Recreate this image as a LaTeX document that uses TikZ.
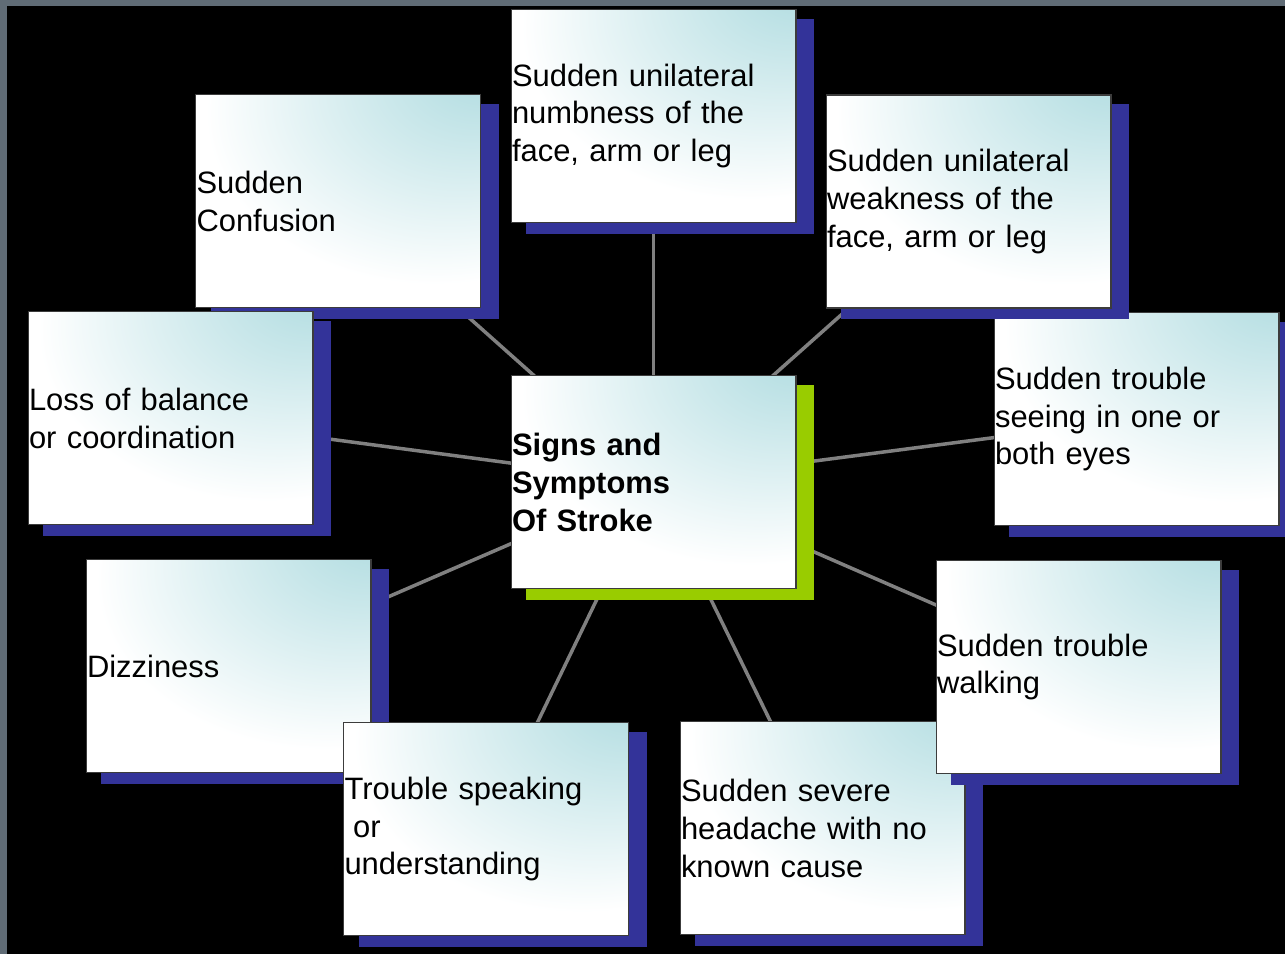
\documentclass[tikz,border=0pt]{standalone}
\usepackage{fontspec}
\setmainfont{Liberation Sans}
\usetikzlibrary{shadows}

\definecolor{slidegrey}{RGB}{96,108,118}
\definecolor{boxteal}{RGB}{183,223,227}
\definecolor{boxedge}{RGB}{60,60,60}
\definecolor{shadownavy}{RGB}{51,51,153}
\definecolor{hubgreen}{RGB}{153,204,0}
\definecolor{linkgrey}{RGB}{128,128,128}

\pgfdeclarelayer{background}
\pgfdeclarelayer{links}
\pgfsetlayers{background,links,main}

\pgfdeclareradialshading{boxshade}{\pgfpoint{28bp}{34bp}}{color(0bp)=(boxteal); color(6bp)=(boxteal); color(40bp)=(white); color(100bp)=(white)}

\tikzset{
  basebox/.style={rectangle, draw=boxedge, line width=0.6pt, shading=boxshade,
    minimum width=5.7cm, minimum height=4.26cm, text width=5.66cm,
    inner xsep=0.02cm, inner ysep=0pt, align=left,
    font=\fontsize{17.6}{21.6}\selectfont},
  symbox/.style={basebox, drop shadow={fill=shadownavy, opacity=1, shadow xshift=0.33cm, shadow yshift=-0.2cm, shadow scale=1.01}},
  hubbox/.style={basebox, font=\fontsize{17.6}{21.6}\selectfont\bfseries,
    drop shadow={fill=hubgreen, opacity=1, shadow xshift=0.33cm, shadow yshift=-0.2cm, shadow scale=1.01}},
  link/.style={draw=linkgrey, line width=0.07cm}
}

\begin{document}
\begin{tikzpicture}[x=0.02cm, y=-0.02cm]
    \useasboundingbox (0,0) rectangle (1285,954);
    \begin{pgfonlayer}{background}
      \fill[slidegrey] (0,0) rectangle (1285,954);
      \fill[black] (7,6) rectangle (1285,954);
    \end{pgfonlayer}

    \node[hubbox] (hub) at (653.5,482) {Signs and\\Symptoms\\Of Stroke};

    \node[symbox] (numb) at (653.5,116) {Sudden unilateral\\numbness of the\\face, arm or leg};
    \node[symbox] (eyes) at (1136.5,419) {Sudden trouble\\seeing in one or\\both eyes};
    \node[symbox] (weak) at (968.5,201.5) {Sudden unilateral\\weakness of the\\face, arm or leg};
    \node[symbox] (conf) at (338,201) {Sudden\\Confusion};
    \node[symbox] (bal) at (170.5,418) {Loss of balance\\or coordination};
    \node[symbox] (dizzy) at (228.5,666) {Dizziness};
    \node[symbox] (speak) at (486,829) {Trouble speaking\\\hspace*{0.278em}or\\understanding};
    \node[symbox] (head) at (822.5,828) {Sudden severe\\headache with no\\known cause};
    \node[symbox] (walk) at (1078.5,667) {Sudden trouble\\walking};

    \begin{pgfonlayer}{links}
      \foreach \sym in {numb,eyes,weak,conf,bal,dizzy,speak,head,walk}
        \draw[link] (hub.center) -- (\sym.center);
    \end{pgfonlayer}
\end{tikzpicture}
\end{document}
